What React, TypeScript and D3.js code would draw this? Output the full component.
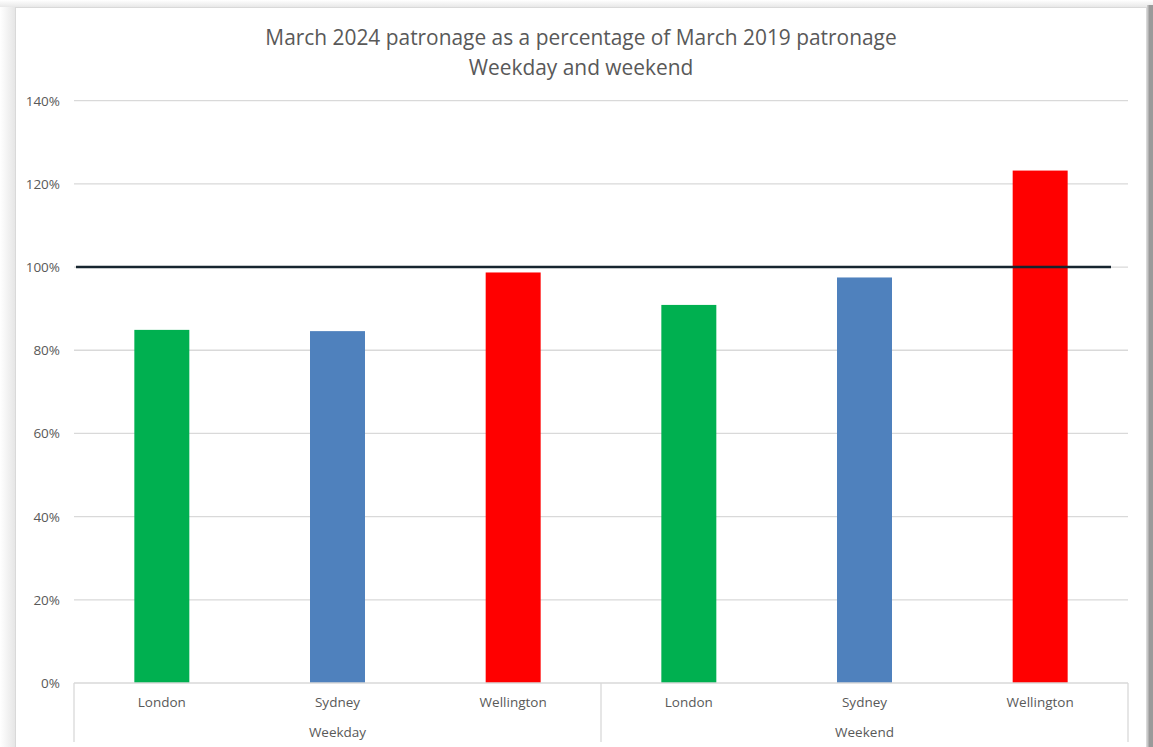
import React from "react";
import * as d3 from "d3";

const groups = ["Weekday", "Weekend"];
const cities = ["London", "Sydney", "Wellington"];
const weekdayValues = [84.9, 84.6, 98.7];
const weekendValues = [90.9, 97.5, 123.2];
const cityColors = ["#00b050", "#4f81bd", "#ff0000"];
const yTicks = [0, 20, 40, 60, 80, 100, 120, 140];
const referenceValue = 100;
const titleLines = [
  "March 2024 patronage as a percentage of March 2019 patronage",
  "Weekday and weekend",
];

const W = 1153;
const H = 747;
const FONT = "'Open Sans', sans-serif";
const TEXT = "#595959";
const GRID = "#d9d9d9";

export default function App() {
  const plotLeft = 74;
  const plotRight = 1128;
  const plotTop = 100.7;
  const plotBottom = 683;

  const y = d3.scaleLinear().domain([0, 140]).range([plotBottom, plotTop]);
  const xGroup = d3.scaleBand<string>().domain(groups).range([plotLeft, plotRight]).padding(0);
  const xCity = d3.scaleBand<string>().domain(cities).range([0, xGroup.bandwidth()]).padding(0);
  const barW = xCity.bandwidth() * 0.313;

  const seriesByGroup = [weekdayValues, weekendValues];
  const bars = groups.flatMap((g, gi) =>
    cities.map((c, ci) => ({
      g,
      c,
      v: seriesByGroup[gi][ci],
      color: cityColors[ci],
      cx: (xGroup(g) as number) + (xCity(c) as number) + xCity.bandwidth() / 2,
    }))
  );

  const axisBottom = 742;

  return (
    <svg
      width={W}
      height={H}
      style={{ position: "absolute", left: 0, top: 0, background: "#ffffff" }}
      fontFamily={FONT}
    >
      <defs>
        <linearGradient id="leftShadow" x1="0" x2="1" y1="0" y2="0">
          <stop offset="0" stopColor="#ffffff" />
          <stop offset="1" stopColor="#e6e6e6" />
        </linearGradient>
        <linearGradient id="topShadow" x1="0" x2="0" y1="0" y2="1">
          <stop offset="0" stopColor="#ffffff" />
          <stop offset="1" stopColor="#e8e8e8" />
        </linearGradient>
      </defs>
      <rect x={0} y={0} width={15} height={H} fill="url(#leftShadow)" />
      <rect x={0} y={0} width={W} height={7} fill="url(#topShadow)" />
      <rect x={1147} y={5} width={6} height={H} fill="#9a9a9a" />
      <rect x={1147} y={5} width={1.5} height={H} fill="#c8c8c8" />
      <rect x={15.5} y={7.5} width={1131} height={H} fill="#ffffff" stroke="#d9d9d9" strokeWidth={1} />

      {titleLines.map((t, i) => (
        <text
          key={i}
          x={581}
          y={37 + i * 30}
          textAnchor="middle"
          dominantBaseline="central"
          fontSize={20.9}
          fill={TEXT}
        >
          {t}
        </text>
      ))}

      {yTicks.filter((t) => t > 0).map((t) => (
        <line key={t} x1={plotLeft} x2={plotRight} y1={y(t)} y2={y(t)} stroke={GRID} strokeWidth={1.3} />
      ))}
      {yTicks.map((t) => (
        <text
          key={t}
          x={60}
          y={y(t)}
          textAnchor="end"
          dominantBaseline="central"
          fontSize={13.5}
          fill={TEXT}
        >
          {d3.format(".0%")(t / 100)}
        </text>
      ))}

      {bars.map((b, i) => (
        <rect
          key={i}
          x={b.cx - barW / 2}
          y={y(b.v)}
          width={barW}
          height={y(0) - y(b.v)}
          fill={b.color}
        />
      ))}

      <line
        x1={plotLeft + 2}
        x2={plotRight - 17}
        y1={y(referenceValue)}
        y2={y(referenceValue)}
        stroke="#17252f"
        strokeWidth={2.6}
      />

      <line x1={plotLeft} x2={plotRight} y1={plotBottom} y2={plotBottom} stroke={GRID} strokeWidth={1.3} />
      {[plotLeft, ...groups.map((g) => (xGroup(g) as number) + xGroup.bandwidth())].map((x, i) => (
        <line key={i} x1={x} x2={x} y1={plotBottom} y2={axisBottom} stroke={GRID} strokeWidth={1.3} />
      ))}
      {bars.map((b, i) => (
        <text
          key={i}
          x={b.cx}
          y={702}
          textAnchor="middle"
          dominantBaseline="central"
          fontSize={13.5}
          fill={TEXT}
        >
          {b.c}
        </text>
      ))}
      {groups.map((g) => (
        <text
          key={g}
          x={(xGroup(g) as number) + xGroup.bandwidth() / 2}
          y={732}
          textAnchor="middle"
          dominantBaseline="central"
          fontSize={13.5}
          fill={TEXT}
        >
          {g}
        </text>
      ))}
    </svg>
  );
}
